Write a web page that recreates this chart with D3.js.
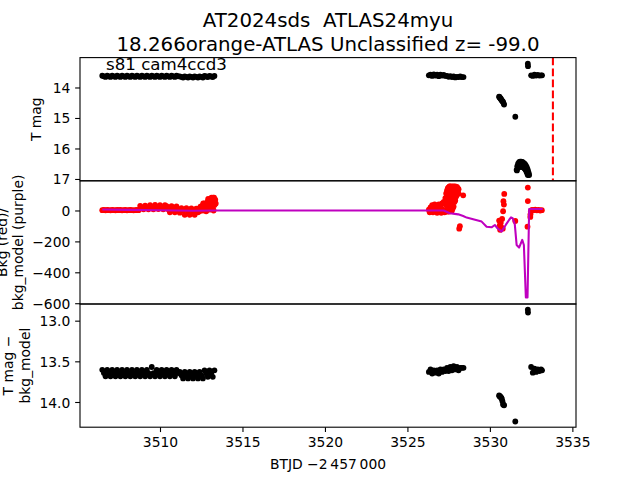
<!DOCTYPE html>
<html><head><meta charset="utf-8">
<script src="https://cdn.jsdelivr.net/npm/d3@7"></script>
<style>body{margin:0;background:#fff} svg{display:block} text{font-family:"DejaVu Sans",sans-serif;fill:#000;white-space:pre}</style>
</head><body><svg id="c" width="640" height="480"></svg>
<script>
// ---------------- data ----------------
const titleLines = ["AT2024sds  ATLAS24myu", "18.266orange-ATLAS Unclassified z= -99.0"];
const sectorLabel = "s81 cam4ccd3";
const xLabel = "BTJD \u22122\u2009457\u2009000";
const yLabels = [["T mag"], ["Bkg (red)/", "bkg_model (purple)"], ["T mag \u2212", "bkg_model"]];

const xDomain = [3505.15, 3535.22];
const topDomain = [13.02, 17.06];
const midDomain = [192, -605];
const botDomain = [12.795, 14.31];

const xTicks = [3510, 3515, 3520, 3525, 3530, 3535];
const topTicks = [14, 15, 16, 17];
const midTicks = [-600, -400, -200, 0];
const botTicks = [13.0, 13.5, 14.0];

const seg1Time = [3506.5,3506.6,3506.7,3506.8,3506.9,
 3507.0,3507.1,3507.2,3507.3,3507.4,3507.5,3507.6,3507.7,3507.8,3507.9,
 3508.0,3508.1,3508.2,3508.3,3508.4,3508.5,3508.6,3508.7,3508.8,3508.9,
 3509.0,3509.1,3509.2,3509.3,3509.4,3509.5,3509.6,3509.7,3509.8,3509.9,
 3510.0,3510.1,3510.2,3510.3,3510.4,3510.5,3510.6,3510.7,3510.8,3510.9,
 3511.0,3511.1,3511.2,3511.3,3511.4,3511.5,3511.6,3511.7,3511.8,3511.9,
 3512.0,3512.1,3512.2,3512.3,3512.4,3512.5,3512.6,3512.7,3512.8,3512.9,
 3513.0,3513.1,3513.2,3513.3];
const seg1Mag = [13.615,13.635,13.655,13.615,13.635,13.655,13.615,13.635,13.655,13.615,
 13.635,13.655,13.615,13.635,13.655,13.615,13.635,13.655,13.615,13.635,
 13.655,13.615,13.635,13.655,13.615,13.635,13.655,13.615,13.635,13.655,
 13.615,13.635,13.655,13.615,13.635,13.655,13.615,13.635,13.655,13.615,
 13.635,13.655,13.615,13.635,13.655,13.615,13.635,
 13.635,13.655,13.675,13.635,13.655,13.675,13.635,13.655,13.675,13.635,13.655,13.675,13.635,13.655,13.675,
 13.62,13.64,13.66,13.62,13.64,13.66,13.62];
const seg1Corr = [13.605,13.645,13.685,13.605,13.645,13.685,13.605,13.645,13.685,13.605,
 13.645,13.685,13.605,13.645,13.685,13.605,13.645,13.685,13.605,13.645,
 13.685,13.605,13.645,13.685,13.605,13.645,13.685,13.605,13.645,13.685,
 13.57,13.645,13.685,13.605,13.645,13.685,13.605,13.645,13.685,13.605,
 13.645,13.685,13.605,13.645,13.685,13.605,13.645,
 13.63,13.67,13.71,13.63,13.67,13.71,13.63,13.67,13.71,13.63,13.67,13.71,13.63,13.67,13.71,
 13.61,13.65,13.69,13.61,13.65,13.69,13.61];

const seg1BkgTime = [3506.5,3506.6,3506.7,3506.8,3506.9,
 3507.0,3507.1,3507.2,3507.3,3507.4,3507.5,3507.6,3507.7,3507.8,3507.9,
 3508.0,3508.1,3508.2,3508.3,3508.4,3508.5,3508.6,3508.7,3508.8,3508.9,
 3509.0,3509.1,3509.2,3509.3,3509.4,3509.5,3509.6,3509.7,3509.8,3509.9,
 3510.0,3510.1,3510.2,3510.3,3510.4,3510.5,3510.6,3510.7,3510.8,3510.9,
 3511.0,3511.1,3511.2,3511.3,3511.4,3511.5,3511.6,3511.7,3511.8,3511.9,
 3512.0,3512.1,3512.2,
 3512.3,3512.35,3512.4,3512.45,3512.5,3512.55,3512.6,3512.65,3512.7,3512.75,3512.8,
 3512.85,3512.9,3512.95,3513.0,3513.05,3513.1,3513.15,3513.2,3513.25,3513.3,3513.35,
 3512.92,3513.02,3513.12,3513.18,3513.22,3513.28,3513.38,3512.72,3512.62];
const seg1Bkg = [2,3,1,3,2,1,3,2,1,3,2,3,1,2,3,1,2,3,2,1,2,3,2,
 30,19,8,32,20,8,
 35,22,8,36,22,9,35,21,8,34,
 28,8,-12,28,8,-12,26,6,
 -14,15,0,-28,15,-6,-28,14,-7,-28,12,
 -12,10,-5,25,5,30,0,20,45,15,-5,
 30,60,35,5,40,75,50,20,0,35,70,
 75,55,83,65,83,83,45,30,45];

const seg2Time = [3526.3,3526.4,3526.5,3526.6,3526.7,3526.8,3526.9,3527.0,3527.1,3527.2,3527.3,
 3527.4,3527.5,3527.6,3527.7,3527.8,3527.9,3528.0,3528.1,3528.2,3528.3,3528.4];
const seg2Mag = [13.60,13.58,13.62,13.57,13.61,13.58,13.63,13.58,13.61,13.59,13.62,
 13.62,13.65,13.63,13.66,13.64,13.67,13.65,13.66,13.64,13.66,13.66];
const seg2Corr = [13.63,13.60,13.65,13.61,13.64,13.61,13.65,13.60,13.63,13.60,13.62,
 13.58,13.62,13.57,13.61,13.56,13.60,13.57,13.61,13.58,13.58,13.58];
const seg2BkgTime = [3526.3,3526.35,3526.4,3526.45,3526.5,3526.55,3526.6,3526.65,3526.7,3526.75,
 3526.8,3526.85,3526.9,3526.95,3527.0,3527.05,3527.1,3527.15,3527.2,3527.25,
 3527.3,3527.3,3527.3,3527.35,3527.35,3527.35,3527.4,3527.4,3527.4,3527.4,
 3527.45,3527.45,3527.45,3527.45,3527.45,3527.5,3527.5,3527.5,3527.5,3527.5,
 3527.55,3527.55,3527.55,3527.55,3527.55,3527.6,3527.6,3527.6,3527.6,3527.6,3527.6,
 3527.65,3527.65,3527.65,3527.65,3527.65,3527.7,3527.7,3527.7,3527.7,3527.7,3527.7,
 3527.75,3527.75,3527.75,3527.75,3527.75,3527.8,3527.8,3527.8,3527.8,3527.8,
 3527.85,3527.85,3527.85,3527.85,3527.9,3527.9,3527.9,3527.9,
 3527.95,3527.95,3527.95,3528.0,3528.0,3528.0,3528.05,3528.05,3528.1,3528.1];
const seg2Bkg = [5,-12,20,-5,35,-12,15,40,-5,30,
 -15,10,40,-8,25,-15,45,5,55,-12,
 80,40,0,110,60,-5,130,90,45,5,
 145,110,70,20,-8,150,120,80,35,-5,
 155,125,90,50,10,156,130,95,60,20,-5,
 150,120,85,45,5,155,128,100,65,30,0,
 152,120,85,50,15,156,125,95,60,25,
 150,118,88,55,155,125,95,65,
 150,120,90,152,125,100,145,115,138,110];

const lateTime = [3530.56,3530.58,3530.6,3530.63,3530.66,3530.69,3530.72,3530.76,3530.8,3530.83,3530.86,
 3531.54,3532.3,3532.31,
 3532.5,3532.6,3532.7,3532.8,3532.9,3533.0,3533.1,3533.16];
const lateMag = [14.30,14.31,14.33,14.35,14.37,14.40,14.42,14.45,14.47,14.52,14.56,
 14.96,13.22,13.30,
 13.60,13.62,13.58,13.61,13.59,13.61,13.60,13.60];
const lateCorr = [13.92,13.925,13.93,13.935,13.94,13.95,13.96,13.99,14.03,14.035,14.04,
 14.24,12.865,12.90,
 13.57,13.64,13.59,13.63,13.60,13.62,13.60,13.61];

const arcTime = [3531.62,3531.66,3531.71,3531.77,3531.83,3531.9,3531.97,3532.04,3532.1,3532.16,3532.22,3532.27,3532.31,3532.35,3532.38,
 3531.64,3531.72,3531.8,3531.88,3531.96,3532.04,3532.1,3532.16,3532.22,3532.27,3532.3,
 3531.75,3531.85,3531.95,3532.05,3532.14,3532.22,3532.3];
const arcMag = [16.70,16.58,16.50,16.45,16.43,16.43,16.44,16.47,16.50,16.54,16.60,16.66,16.73,16.80,16.87,
 16.72,16.62,16.60,16.60,16.60,16.62,16.66,16.70,16.76,16.83,16.87,
 16.55,16.52,16.52,16.55,16.60,16.68,16.80];

const bkgExtraTime = [3528.14,3528.18,3528.38,3530.87,3530.82,3530.85,3530.8,
 3530.56,3530.6,3530.62,3530.66,3530.7,3530.74,3530.78,3531.54,3532.3,3532.3,3532.28,
 3532.45,3532.46,3532.48,3532.55,3532.65,3532.75,3532.85,3532.95,3533.05,3533.15];
const bkgExtra = [-118,-102,98,107,60,38,-5,
 -65,-95,-125,-80,-110,-55,-118,-68,148,61,-105,
 -42,-25,-8,4,2,5,1,3,0,2];

const modelTime = [3506.5,3508.0,3510.0,3512.0,3513.35,3526.3,3527.2,3527.57,3528.08,3528.38,3528.59,
 3529.5,3529.8,3530.1,3530.3,3530.46,3530.71,3530.97,3531.17,3531.28,3531.38,3531.51,
 3531.62,3531.77,3531.96,3532.06,3532.18,3532.28,3532.38,3533.2];
const modelVal = [6,4,2,-2,0,0,0,-18,-25,-36,-46,
 -72,-105,-109,-94,-115,-137,-92,-60,-45,-50,-90,
 -223,-240,-190,-223,-563,-563,10,10];

const discoveryTime = 3533.82;

// ---------------- layout ----------------
const svg = d3.select("#c");
const L = 80, R = 576;
const P = [[57.6,180.8],[180.8,304],[304,427.2]];
const x = d3.scaleLinear().domain(xDomain).range([L, R]);
const yTop = d3.scaleLinear().domain(topDomain).range(P[0]);
const yMid = d3.scaleLinear().domain(midDomain).range(P[1]);
const yBot = d3.scaleLinear().domain(botDomain).range(P[2]);
const FS = 13.89, TICK = 4.86, MR = 2.9;

const defs = svg.append("defs");
P.forEach((p,i)=>{
  defs.append("clipPath").attr("id","clip"+i).append("rect")
    .attr("x",L).attr("y",p[0]).attr("width",R-L).attr("height",p[1]-p[0]);
});

function zip(t, v){ return t.map((d,i)=>[d, v[i]]); }
function dots(g, data, y, color){
  g.selectAll(null).data(data).join("circle")
    .attr("cx", d=>x(d[0])).attr("cy", d=>y(d[1])).attr("r", MR).attr("fill", color);
}

// top panel
const g0 = svg.append("g").attr("clip-path","url(#clip0)");
dots(g0, zip(seg1Time, seg1Mag).concat(zip(seg2Time, seg2Mag), zip(lateTime, lateMag), zip(arcTime, arcMag)), yTop, "#000");
g0.append("line").attr("x1", x(discoveryTime)).attr("x2", x(discoveryTime))
  .attr("y1", P[0][0]).attr("y2", P[0][1]).attr("stroke","#ff0000").attr("stroke-width",2.08)
  .attr("stroke-dasharray","7.7,3.3");

// middle panel
const g1 = svg.append("g").attr("clip-path","url(#clip1)");
dots(g1, zip(seg1BkgTime, seg1Bkg).concat(zip(seg2BkgTime, seg2Bkg), zip(bkgExtraTime, bkgExtra)), yMid, "#ff0000");
g1.append("path").datum(zip(modelTime, modelVal))
  .attr("d", d3.line().x(d=>x(d[0])).y(d=>yMid(d[1])))
  .attr("fill","none").attr("stroke","#bf00bf").attr("stroke-width",2.08).attr("stroke-linejoin","round");

// bottom panel
const g2 = svg.append("g").attr("clip-path","url(#clip2)");
dots(g2, zip(seg1Time, seg1Corr).concat(zip(seg2Time, seg2Corr), zip(lateTime, lateCorr)), yBot, "#000");

// axes
function yAxis(scale, ticks, fmt){
  const a = svg.append("g").attr("transform",`translate(${L},0)`)
    .call(d3.axisLeft(scale).tickValues(ticks).tickFormat(fmt).tickSize(TICK).tickPadding(4.86).tickSizeOuter(0));
  a.select(".domain").remove();
  a.selectAll(".tick line").attr("stroke","#000").attr("stroke-width",1.1);
  a.selectAll(".tick text").attr("font-size",FS).attr("font-family","DejaVu Sans").attr("dy","0.36em");
}
yAxis(yTop, topTicks, d3.format("d"));
yAxis(yMid, midTicks, d3.format("d"));
yAxis(yBot, botTicks, d3.format(".1f"));

const xa = svg.append("g").attr("transform",`translate(0,${P[2][1]})`)
  .call(d3.axisBottom(x).tickValues(xTicks).tickFormat(d3.format("d")).tickSize(TICK).tickPadding(4.86).tickSizeOuter(0));
xa.select(".domain").remove();
xa.selectAll(".tick line").attr("stroke","#000").attr("stroke-width",1.1);
xa.selectAll(".tick text").attr("font-size",FS).attr("font-family","DejaVu Sans").attr("dy","0.76em");

// frames
P.forEach(p=>{
  svg.append("rect").attr("x",L).attr("y",p[0]).attr("width",R-L).attr("height",p[1]-p[0])
    .attr("fill","none").attr("stroke","#000").attr("stroke-width",1.1);
});

// texts
svg.append("text").attr("x",106).attr("y",70).attr("font-size",16.67).text(sectorLabel);
svg.append("text").attr("x",328).attr("y",27).attr("text-anchor","middle").attr("font-size",19.8).text(titleLines[0]);
svg.append("text").attr("x",328).attr("y",50.5).attr("text-anchor","middle").attr("font-size",19.8).text(titleLines[1]);
svg.append("text").attr("x",328).attr("y",469).attr("text-anchor","middle").attr("font-size",FS).text(xLabel);

const yLabelPos = [[[41]], [[6.5],[23.2]], [[12.8],[29.5]]];
yLabels.forEach((lines, i)=>{
  const cy = (P[i][0]+P[i][1])/2;
  lines.forEach((s, j)=>{
    const bx = yLabelPos[i][j][0];
    svg.append("text").attr("transform",`translate(${bx},${cy}) rotate(-90)`)
      .attr("text-anchor","middle").attr("font-size",FS).text(s);
  });
});
</script></body></html>
